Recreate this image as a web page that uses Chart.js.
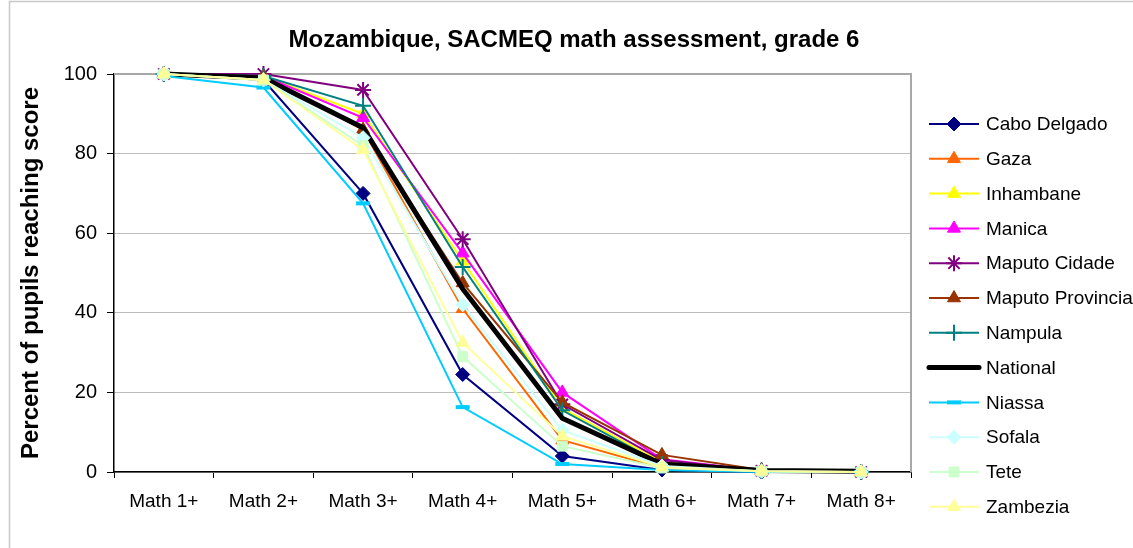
<!DOCTYPE html>
<html>
<head>
<meta charset="utf-8">
<script src="https://cdn.jsdelivr.net/npm/chart.js@4.4.1/dist/chart.umd.min.js"></script>
<style>
  html, body { margin: 0; padding: 0; background: #fff; }
  #wrap { width: 1133px; height: 548px; }
</style>
</head>
<body>
<div id="wrap"><canvas id="chart" width="1133" height="548"></canvas></div>
<script>
// score levels on the x axis
const levels = ['Math 1+', 'Math 2+', 'Math 3+', 'Math 4+', 'Math 5+', 'Math 6+', 'Math 7+', 'Math 8+'];
const yTicks = [0, 20, 40, 60, 80, 100];

// percent of pupils reaching each level, by province
const caboDelgado     = [100, 98.5, 70,   24.5, 4,    0.5, 0,   0];
const gaza            = [100, 99.5, 86,   41,   8,    1,   0.2, 0];
const inhambane       = [100, 99.5, 90,   53,   16,   2.5, 0.3, 0];
const manica          = [100, 99.5, 89,   55,   20,   3.2, 0.3, 0];
const maputoCidade    = [100, 100,  96,   58.5, 17,   3,   0.3, 0];
const maputoProvincia = [100, 99.5, 86,   47.5, 17.5, 4.3, 0.5, 0];
const nampula         = [100, 99.5, 92,   51.5, 15.5, 2,   0.3, 0];
const national        = [100, 99,   86.5, 46,   13.5, 2,   0.4, 0.2];
const niassa          = [99.5, 96.6, 67.5, 16.3, 2,   0.5, 0,   0];
const sofala          = [100, 98.5, 84,   42,   10.5, 1.5, 0.2, 0];
const tete            = [100, 98.5, 82,   29,   6.5,  1,   0.2, 0];
const zambezia        = [100, 98.5, 81,   32.5, 9,    1.2, 0.2, 0];

const FONT = '"Liberation Sans", Arial, sans-serif';

function series(label, data, color, style, radius, extra) {
  return Object.assign({
    label: label,
    data: data,
    borderColor: color,
    backgroundColor: color,
    borderWidth: 2,
    pointStyle: style,
    pointRadius: radius,
    pointBorderWidth: 1,
    pointHoverRadius: radius,
    tension: 0,
    clip: false
  }, extra || {});
}

const datasets = [
  series('Cabo Delgado', caboDelgado, '#000080', 'rectRot', 7),
  series('Gaza', gaza, '#FF6600', 'triangle', 7.5),
  series('Inhambane', inhambane, '#FFFF00', 'triangle', 7.5),
  series('Manica', manica, '#FF00FF', 'triangle', 7.5),
  series('Maputo Cidade', maputoCidade, '#800080', 'star', 8, { pointBorderWidth: 2 }),
  series('Maputo Provincia', maputoProvincia, '#993300', 'triangle', 7.5),
  series('Nampula', nampula, '#008080', 'cross', 8, { pointBorderWidth: 2 }),
  series('National', national, '#000000', false, 0, { borderWidth: 5 }),
  series('Niassa', niassa, '#00CCFF', 'line', 7, { pointBorderWidth: 4 }),
  series('Sofala', sofala, '#CCFFFF', 'rectRot', 7),
  series('Tete', tete, '#CCFFCC', 'rect', 7),
  series('Zambezia', zambezia, '#FFFF99', 'triangle', 7.5)
];
// later series sit on top, like the original
datasets.forEach((d, i) => { d.order = -i; });

// frame, plot border, title and the line+marker legend
const decor = {
  id: 'decor',
  beforeDraw(chart) {
    const ctx = chart.ctx;
    ctx.save();
    ctx.fillStyle = '#fff';
    ctx.fillRect(0, 0, chart.width, chart.height);
    ctx.strokeStyle = '#c8c8c8';
    ctx.lineWidth = 1.5;
    ctx.strokeRect(9.5, 1.5, chart.width + 20, chart.height + 20);
    ctx.restore();
  },
  beforeDatasetsDraw(chart) {
    const ctx = chart.ctx;
    const a = chart.chartArea;
    ctx.save();
    ctx.strokeStyle = '#a8a8a8';
    ctx.lineWidth = 2;
    ctx.beginPath();
    ctx.moveTo(a.left, a.top);
    ctx.lineTo(a.right, a.top);
    ctx.lineTo(a.right, a.bottom);
    ctx.stroke();
    ctx.restore();
  },
  afterDraw(chart) {
    const ctx = chart.ctx;
    ctx.save();
    ctx.fillStyle = '#000';
    ctx.font = 'bold 24px ' + FONT;
    ctx.textAlign = 'center';
    ctx.textBaseline = 'middle';
    ctx.fillText('Mozambique, SACMEQ math assessment, grade 6', 574, 40);

    ctx.font = '19px ' + FONT;
    ctx.textAlign = 'left';
    chart.data.datasets.forEach((d, i) => {
      const y = 124 + i * 34.8;
      ctx.strokeStyle = d.borderColor;
      ctx.lineWidth = d.borderWidth;
      ctx.lineCap = d.borderWidth > 3 ? 'round' : 'butt';
      ctx.beginPath();
      ctx.moveTo(929, y);
      ctx.lineTo(979, y);
      ctx.stroke();
      if (d.pointStyle) {
        ctx.fillStyle = d.backgroundColor;
        ctx.strokeStyle = d.borderColor;
        ctx.lineWidth = d.pointBorderWidth;
        Chart.helpers.drawPoint(ctx, {
          pointStyle: d.pointStyle, radius: d.pointRadius, rotation: 0, borderWidth: d.pointBorderWidth
        }, 954, y);
      }
      ctx.fillStyle = '#000';
      ctx.fillText(d.label, 986, y + 1);
    });
    ctx.restore();
  }
};

new Chart(document.getElementById('chart'), {
  type: 'line',
  data: { labels: levels, datasets: datasets },
  options: {
    responsive: false,
    animation: false,
    devicePixelRatio: 1,
    layout: { padding: { left: 10, right: 222, top: 74, bottom: 0 } },
    plugins: {
      legend: { display: false },
      title: { display: false },
      tooltip: { enabled: false }
    },
    scales: {
      x: {
        offset: true,
        afterFit(s) { s.height = 76; },
        grid: {
          offset: true,
          drawOnChartArea: false,
          drawTicks: true,
          tickLength: 6,
          tickColor: '#000',
          tickWidth: 1
        },
        border: { color: '#000', width: 1.5 },
        ticks: { color: '#000', font: { family: FONT, size: 19 }, padding: 12, maxRotation: 0 }
      },
      y: {
        min: 0,
        max: 100,
        afterFit(s) { s.width = 104; },
        afterBuildTicks(s) { s.ticks = yTicks.map(v => ({ value: v })); },
        grid: {
          color: '#bcbcbc',
          lineWidth: 1,
          tickLength: 7,
          tickColor: '#000',
          drawTicks: true
        },
        border: { color: '#000', width: 1.5 },
        ticks: { color: '#000', font: { family: FONT, size: 20 }, padding: 10 },
        title: {
          display: true,
          text: 'Percent of pupils reaching score',
          color: '#000',
          font: { family: FONT, size: 24, weight: 'bold' },
          padding: { top: 7, bottom: 0 }
        }
      }
    }
  },
  plugins: [decor]
});
</script>
</body>
</html>
